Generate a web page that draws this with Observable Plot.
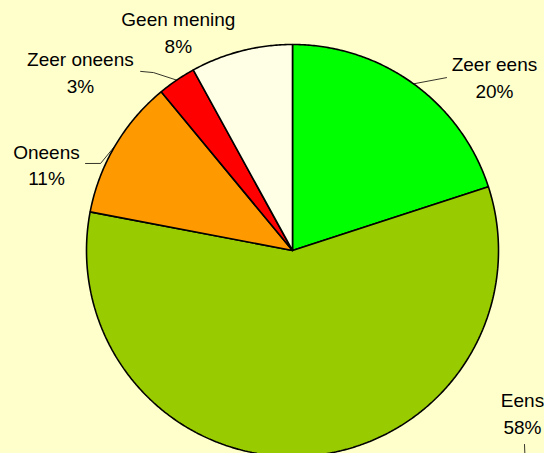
<!DOCTYPE html>
<html>
<head>
<meta charset="utf-8">
<script src="https://cdn.jsdelivr.net/npm/d3@7"></script>
<script src="https://cdn.jsdelivr.net/npm/@observablehq/plot@0.6"></script>
<style>
  html, body { margin: 0; padding: 0; background: #FFFFCC; }
  #chart svg { display: block; }
</style>
</head>
<body>
<div id="chart"></div>
<script>
// ---- Data ----
const categories = ["Zeer eens", "Eens", "Oneens", "Zeer oneens", "Geen mening"];
const percents   = [20, 58, 11, 3, 8];
const colors     = ["#00FF00", "#99CC00", "#FF9900", "#FF0000", "#FFFFE6"];

// ---- Layout (label placement, polar: angle in degrees clockwise from top, radius in pie radii) ----
const labelLayout = [
  {angle: 49.1,  r: 1.297, leader: [[41.7, 1.124]]},
  {angle: 125.0, r: 1.363, leader: [[129.9, 1.468], [133.5, 1.56]], noStart: true},
  {angle: 289.5, r: 1.267, leader: [[294.4, 1.023], [292.8, 1.09]]},
  {angle: 310.3, r: 1.35,  leader: [[322.0, 1.096], [319.7, 1.14]]},
  {angle: 332.5, r: 1.20,  leader: []}
];

const W = 544, H = 453;
const cx = 292, cy = 250, R = 206;

const polar = (deg, r) => {
  const a = deg * Math.PI / 180;
  return {x: r * Math.sin(a), y: r * Math.cos(a)};
};

// build slice polygons from the data
const total = d3.sum(percents);
const slices = [];
let acc = 0;
categories.forEach((c, i) => {
  const a0 = acc / total * 360;
  acc += percents[i];
  const a1 = acc / total * 360;
  const pts = [{cat: c, ...polar(0, 0)}];
  const n = Math.max(2, Math.ceil((a1 - a0) / 0.5));
  for (let k = 0; k <= n; k++) pts.push({cat: c, ...polar(a0 + (a1 - a0) * k / n, 1)});
  pts.push({cat: c, ...polar(0, 0)});
  slices.push({cat: c, color: colors[i], pts, mid: (a0 + a1) / 2, pct: percents[i]});
});

const polyData = slices.flatMap(s => s.pts.map(p => ({...p, color: s.color})));

const labelData = slices.map((s, i) => ({
  text: s.cat + "\n" + s.pct + "%",
  ...polar(labelLayout[i].angle, labelLayout[i].r)
}));

const leaderData = slices.flatMap((s, i) => {
  const L = labelLayout[i];
  if (!L.leader.length) return [];
  const pts = [];
  if (!L.noStart) pts.push({id: s.cat, ...polar(s.mid, 1)});
  L.leader.forEach(([a, r]) => pts.push({id: s.cat, ...polar(a, r)}));
  return pts;
});

const chart = Plot.plot({
  width: W,
  height: H,
  margin: 0,
  style: {background: "#FFFFCC", overflow: "hidden"},
  x: {domain: [-cx / R, (W - cx) / R], range: [0, W], axis: null},
  y: {domain: [-(H - cy) / R, cy / R], range: [H, 0], axis: null},
  marks: [
    Plot.line(polyData, {x: "x", y: "y", z: "cat", fill: "color", stroke: "#000", strokeWidth: 1.6, strokeLinejoin: "miter", curve: "linear"}),
    Plot.line(leaderData, {x: "x", y: "y", z: "id", stroke: "#000", strokeWidth: 0.8}),
    Plot.text(labelData, {x: "x", y: "y", text: "text", fontFamily: "Liberation Sans, Arial, sans-serif", fontSize: 19, lineHeight: 1.42, fill: "#000", textAnchor: "middle"})
  ]
});
document.getElementById("chart").appendChild(chart);
</script>
</body>
</html>
